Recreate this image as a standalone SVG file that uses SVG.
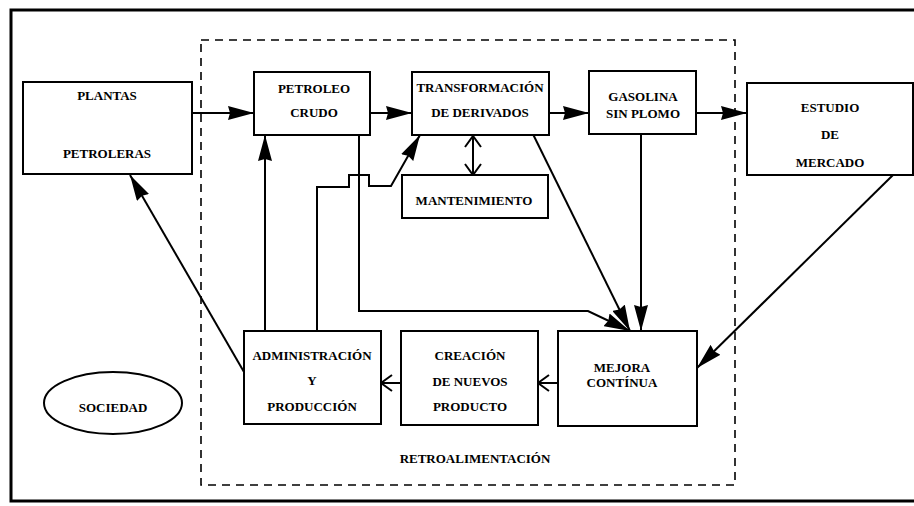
<svg xmlns="http://www.w3.org/2000/svg" width="914" height="506" viewBox="0 0 914 506">
  <style>
    .box { fill: #fff; stroke: #000; stroke-width: 2; }
    .lbl { font-weight: bold; font-size: 13px; fill: #000; text-anchor: middle; }
    .wire { fill: none; stroke: #000; stroke-width: 2; }
    .solid { marker-end: url(#head); }
    .open { marker-end: url(#vee); }
  </style>
  <defs>
    <marker id="head" viewBox="0 0 26 14" refX="26" refY="7" markerWidth="26" markerHeight="14" markerUnits="userSpaceOnUse" orient="auto">
      <path d="M0,0 L26,7 L0,14 L2,7 z" fill="#000"/>
    </marker>
    <marker id="vee" viewBox="-13 -9 15 18" refX="0" refY="0" markerWidth="15" markerHeight="18" markerUnits="userSpaceOnUse" orient="auto-start-reverse">
      <path d="M-11,-8 L0,0 L-11,8" fill="none" stroke="#000" stroke-width="2"/>
    </marker>
  </defs>

  <rect width="914" height="506" fill="#fff"/>

  <!-- page frame, open on the right -->
  <path d="M914,10 H11 V501 H914" fill="none" stroke="#000" stroke-width="3"/>

  <g font-family="Liberation Serif, DejaVu Serif, serif">
  <!-- feedback boundary -->
  <g id="retroalimentacion">
    <rect x="201" y="40" width="534" height="445" fill="none" stroke="#000" stroke-width="1.6" stroke-dasharray="8 6"/>
    <text class="lbl" x="475" y="463">RETROALIMENTACIÓN</text>
  </g>

  <!-- connectors -->
  <g id="connectors">
    <path class="wire solid" d="M192,113 H254"/>
    <path class="wire solid" d="M370,113 H412"/>
    <path class="wire solid" d="M549,113 H589"/>
    <path class="wire solid" d="M696,113 H747"/>
    <path class="wire solid" d="M265,331 V135"/>
    <path class="wire solid" d="M317,331 V187 H349 V175 H369 V186 H391 L420,135"/>
    <path class="wire solid" d="M359,135 V311 H588 L630,331"/>
    <path class="wire solid" d="M527,122 L630,331"/>
    <path class="wire solid" d="M641,134 V331"/>
    <path class="wire solid" d="M893,175 L697,368"/>
    <path class="wire solid" d="M244,372 L130,175"/>
    <path class="wire open" d="M558,383 H538"/>
    <path class="wire open" d="M401,383 H381"/>
    <path class="wire open" d="M473,136 V175" marker-start="url(#vee)"/>
  </g>

  <g id="plantas">
    <rect class="box" x="23" y="82" width="169" height="92"/>
    <text class="lbl" x="107" y="100">PLANTAS</text>
    <text class="lbl" x="107" y="158">PETROLERAS</text>
  </g>

  <g id="petroleo">
    <rect class="box" x="254" y="72" width="116" height="63"/>
    <text class="lbl" x="314" y="93">PETROLEO</text>
    <text class="lbl" x="314" y="117">CRUDO</text>
  </g>

  <g id="transformacion">
    <rect class="box" x="412" y="72" width="137" height="63"/>
    <text class="lbl" x="480" y="92">TRANSFORMACIÓN</text>
    <text class="lbl" x="480" y="117">DE DERIVADOS</text>
  </g>

  <g id="gasolina">
    <rect class="box" x="589" y="71" width="107" height="63"/>
    <text class="lbl" x="643" y="101">GASOLINA</text>
    <text class="lbl" x="643" y="118">SIN PLOMO</text>
  </g>

  <g id="estudio">
    <rect class="box" x="747" y="83" width="166" height="92"/>
    <text class="lbl" x="830" y="112">ESTUDIO</text>
    <text class="lbl" x="830" y="139">DE</text>
    <text class="lbl" x="830" y="167">MERCADO</text>
  </g>

  <g id="mantenimiento">
    <rect class="box" x="402" y="175" width="146" height="43"/>
    <text class="lbl" x="474" y="205">MANTENIMIENTO</text>
  </g>

  <g id="administracion">
    <rect class="box" x="244" y="331" width="137" height="93"/>
    <text class="lbl" x="312" y="360">ADMINISTRACIÓN</text>
    <text class="lbl" x="312" y="385">Y</text>
    <text class="lbl" x="312" y="411">PRODUCCIÓN</text>
  </g>

  <g id="creacion">
    <rect class="box" x="401" y="331" width="137" height="94"/>
    <text class="lbl" x="470" y="360">CREACIÓN</text>
    <text class="lbl" x="470" y="386">DE NUEVOS</text>
    <text class="lbl" x="470" y="411">PRODUCTO</text>
  </g>

  <g id="mejora">
    <rect class="box" x="558" y="331" width="139" height="95"/>
    <text class="lbl" x="622" y="372">MEJORA</text>
    <text class="lbl" x="622" y="387">CONTÍNUA</text>
  </g>

  <g id="sociedad">
    <ellipse cx="113" cy="403" rx="69" ry="31" fill="#fff" stroke="#000" stroke-width="2"/>
    <text class="lbl" x="113" y="412">SOCIEDAD</text>
  </g>
  </g>
</svg>
